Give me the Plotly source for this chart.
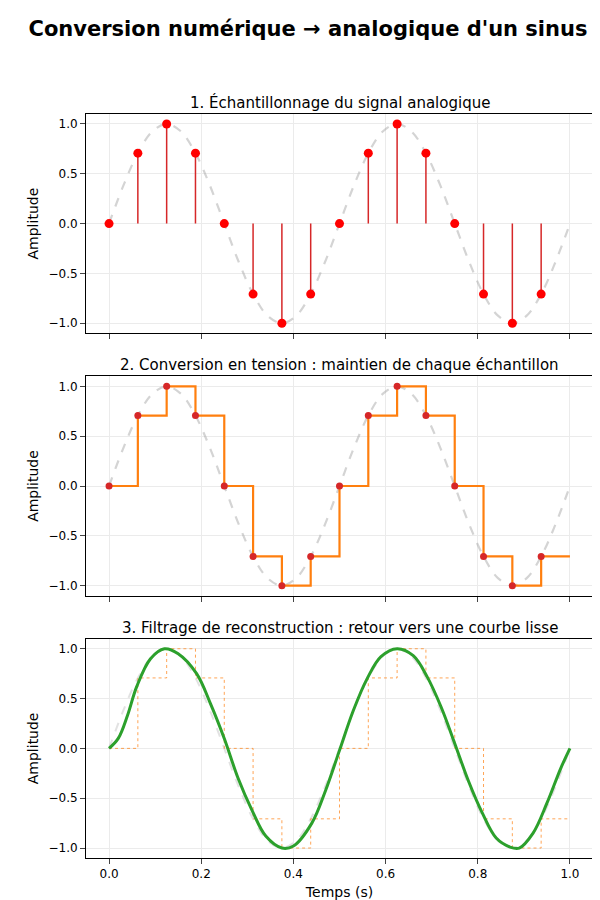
import plotly.graph_objects as go
from plotly.subplots import make_subplots

# samples (t = k/16)
t_samp = [0, 0.0625, 0.125, 0.1875, 0.25, 0.3125, 0.375, 0.4375,
          0.5, 0.5625, 0.625, 0.6875, 0.75, 0.8125, 0.875, 0.9375]
v_samp = [0, 0.707, 1, 0.707, 0, -0.707, -1, -0.707,
          0, 0.707, 1, 0.707, 0, -0.707, -1, -0.707]

# analog signal
t_ana = [i / 32 for i in range(33)]
v_ana = [0, 0.383, 0.707, 0.924, 1, 0.924, 0.707, 0.383,
         0, -0.383, -0.707, -0.924, -1, -0.924, -0.707, -0.383,
         0, 0.383, 0.707, 0.924, 1, 0.924, 0.707, 0.383,
         0, -0.383, -0.707, -0.924, -1, -0.924, -0.707, -0.383, 0]

# reconstructed (filtered) signal
t_rec = [0, 0.02, 0.04, 0.06, 0.09, 0.12, 0.15, 0.19, 0.22, 0.25, 0.28, 0.31,
         0.34, 0.375, 0.40, 0.44, 0.47, 0.50, 0.53, 0.56, 0.59, 0.625, 0.66,
         0.69, 0.72, 0.75, 0.78, 0.81, 0.84, 0.87, 0.89, 0.92, 0.95, 0.98, 1.0]
v_rec = [0, 0.1, 0.33, 0.62, 0.9, 1.0, 0.95, 0.75, 0.45, 0.1, -0.3, -0.62,
         -0.88, -1.0, -0.98, -0.75, -0.42, -0.02, 0.38, 0.7, 0.92, 1.0, 0.93,
         0.72, 0.42, 0.05, -0.33, -0.65, -0.9, -0.99, -1.0, -0.85, -0.55, -0.2, 0]

t_step = t_samp + [1.0]
v_step = v_samp + [v_samp[-1]]

titles = ["1. Échantillonnage du signal analogique",
          "2. Conversion en tension : maintien de chaque échantillon",
          "3. Filtrage de reconstruction : retour vers une courbe lisse"]

fig = make_subplots(rows=3, cols=1, shared_xaxes=True, vertical_spacing=0.058,
                    subplot_titles=titles)

grey = dict(color="rgba(160,160,160,0.45)", width=2.2, dash="dash", shape="spline")

# panel 1
fig.add_trace(go.Scatter(x=t_ana, y=v_ana, mode="lines", line=grey), 1, 1)
sx, sy = [], []
for t, v in zip(t_samp, v_samp):
    sx += [t, t, None]
    sy += [0, v, None]
fig.add_trace(go.Scatter(x=sx, y=sy, mode="lines", line=dict(color="#d62728", width=1.5)), 1, 1)
fig.add_trace(go.Scatter(x=t_samp, y=v_samp, mode="markers",
                         marker=dict(color="red", size=9)), 1, 1)

# panel 2
fig.add_trace(go.Scatter(x=t_ana, y=v_ana, mode="lines", line=grey), 2, 1)
fig.add_trace(go.Scatter(x=t_step, y=v_step, mode="lines",
                         line=dict(color="#ff7f0e", width=2.2, shape="hv")), 2, 1)
fig.add_trace(go.Scatter(x=t_samp, y=v_samp, mode="markers",
                         marker=dict(color="#d62728", size=7)), 2, 1)

# panel 3
fig.add_trace(go.Scatter(x=t_ana, y=v_ana, mode="lines",
                         line=dict(color="rgba(160,160,160,0.3)", width=2, dash="dash", shape="spline")), 3, 1)
fig.add_trace(go.Scatter(x=t_step, y=v_step, mode="lines",
                         line=dict(color="rgba(255,127,14,0.7)", width=1, dash="dot", shape="hv")), 3, 1)
fig.add_trace(go.Scatter(x=t_rec, y=v_rec, mode="lines",
                         line=dict(color="#2ca02c", width=3, shape="spline")), 3, 1)

fig.update_xaxes(range=[-0.05, 1.05], tickvals=[0, 0.2, 0.4, 0.6, 0.8, 1.0],
                 ticktext=["0.0", "0.2", "0.4", "0.6", "0.8", "1.0"],
                 showgrid=True, gridcolor="#ebebeb", zeroline=False,
                 showline=True, linecolor="black", mirror=True, ticks="outside",
                 showticklabels=True)
fig.update_xaxes(showticklabels=False, row=1, col=1)
fig.update_xaxes(showticklabels=False, row=2, col=1)
fig.update_xaxes(title_text="Temps (s)", title_standoff=6, row=3, col=1)
fig.update_yaxes(range=[-1.1, 1.1], tickvals=[-1, -0.5, 0, 0.5, 1],
                 ticktext=["−1.0", "−0.5", "0.0", "0.5", "1.0"],
                 showgrid=True, gridcolor="#ebebeb", zeroline=False,
                 showline=True, linecolor="black", mirror=True, ticks="outside",
                 title_text="Amplitude", title_standoff=6)

for a in fig.layout.annotations:
    a.font = dict(size=15, color="black")

fig.update_layout(
    width=600, height=900, showlegend=False,
    title=dict(text="<b>Conversion numérique → analogique d'un sinus</b>",
               x=0.5, y=0.985, font=dict(size=21, color="black")),
    font=dict(family="DejaVu Sans", size=12, color="black"),
    plot_bgcolor="white", paper_bgcolor="white",
    margin=dict(l=78, r=15, t=106, b=50),
)

fig.write_html("out.html")
